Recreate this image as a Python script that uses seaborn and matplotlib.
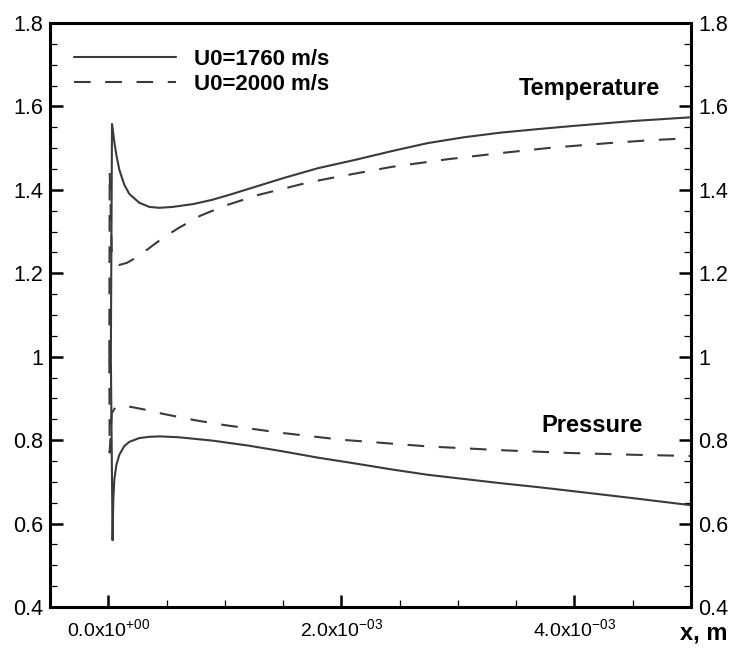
"""Temperature and pressure profiles behind the shock for two inflow speeds."""

import matplotlib
matplotlib.use("Agg")
import matplotlib.pyplot as plt
import matplotlib.ticker as mticker
import pandas as pd
import seaborn as sns

# U0 = 1760 m/s (solid)
X_T_1760 = [2.2e-5, 3.2e-5, 3.9e-5, 5.2e-5, 6.9e-5, 9.5e-5, 1.38e-4, 1.81e-4, 2.67e-4, 3.53e-4,
            4.4e-4, 5.5e-4, 7.3e-4, 8.9e-4, 1.05e-3, 1.2e-3, 1.5e-3, 1.8e-3, 2.12e-3, 2.45e-3,
            2.74e-3, 3.05e-3, 3.36e-3, 3.7e-3, 3.98e-3, 4.5e-3, 5.0e-3]
T_1760 = [1.0, 1.558, 1.544, 1.515, 1.484, 1.448, 1.412, 1.39, 1.369, 1.359,
          1.357, 1.359, 1.366, 1.376, 1.389, 1.402, 1.428, 1.452, 1.472, 1.494,
          1.512, 1.526, 1.537, 1.546, 1.553, 1.565, 1.574]
X_P_1760 = [2.2e-5, 3.7e-5, 4.3e-5, 5.2e-5, 6.9e-5, 9.5e-5, 1.38e-4, 1.81e-4, 2.67e-4, 3.53e-4,
            4.4e-4, 6.0e-4, 8.9e-4, 1.2e-3, 1.5e-3, 1.8e-3, 2.12e-3, 2.45e-3, 2.74e-3,
            3.05e-3, 3.36e-3, 3.7e-3, 3.98e-3, 4.5e-3, 5.0e-3]
P_1760 = [1.0, 0.56, 0.657, 0.705, 0.74, 0.765, 0.786, 0.796, 0.805, 0.808,
          0.809, 0.807, 0.799, 0.787, 0.773, 0.758, 0.744, 0.729, 0.717,
          0.707, 0.697, 0.687, 0.678, 0.661, 0.644]

# U0 = 2000 m/s (dashed)
X_T_2000 = [0.9e-5, 1.2e-5, 3.0e-5, 5.0e-5, 9.5e-5, 1.6e-4, 2.4e-4, 3.4e-4, 4.6e-4, 6.0e-4,
            7.9e-4, 1.0e-3, 1.29e-3, 1.72e-3, 2.0e-3, 2.43e-3, 2.9e-3, 3.36e-3, 3.8e-3,
            4.29e-3, 4.65e-3, 5.0e-3]
T_2000 = [1.0, 1.445, 1.25, 1.233, 1.22, 1.225, 1.238, 1.258, 1.283, 1.308,
          1.338, 1.362, 1.388, 1.418, 1.433, 1.455, 1.473, 1.488, 1.501,
          1.512, 1.519, 1.524]
X_P_2000 = [0.9e-5, 1.2e-5, 3.0e-5, 6.0e-5, 1.5e-4, 3.0e-4, 4.7e-4, 7.6e-4, 1.0e-3, 1.5e-3,
            2.0e-3, 2.74e-3, 3.36e-3, 3.98e-3, 4.5e-3, 5.0e-3]
P_2000 = [1.0, 0.77, 0.865, 0.878, 0.882, 0.874, 0.863, 0.847, 0.836, 0.817,
          0.801, 0.785, 0.776, 0.769, 0.765, 0.762]

X_TICKS = [0.0, 2.0e-3, 4.0e-3]
X_TICK_LABELS = ["0.0x10$^{+00}$", "2.0x10$^{-03}$", "4.0x10$^{-03}$"]
Y_TICKS = [0.4, 0.6, 0.8, 1.0, 1.2, 1.4, 1.6, 1.8]

LINE_COLOR = "#3a3a3a"


def main():
    sns.set_style("white")
    plt.rcParams["font.family"] = ["Liberation Sans", "DejaVu Sans"]
    plt.rcParams["mathtext.fontset"] = "custom"
    plt.rcParams["mathtext.rm"] = "Liberation Sans"
    plt.rcParams["mathtext.default"] = "regular"
    plt.rcParams["text.color"] = "black"

    fig = plt.figure(figsize=(7.36, 6.62), dpi=100)
    ax = fig.add_axes([50 / 736, 1 - 607 / 662, (691 - 50) / 736, (607 - 23) / 662])

    series = [
        (X_T_1760, T_1760, "-", "U0=1760 m/s"),
        (X_T_2000, T_2000, "--", "U0=2000 m/s"),
        (X_P_1760, P_1760, "-", None),
        (X_P_2000, P_2000, "--", None),
    ]
    handles = []
    for xs, ys, ls, label in series:
        df = pd.DataFrame({"x": xs, "y": ys})
        sns.lineplot(data=df, x="x", y="y", sort=False, estimator=None, ax=ax,
                     color=LINE_COLOR, linewidth=1.5)
        line = ax.lines[-1]
        if ls == "--":
            line.set_dashes((8, 7))
        if label:
            line.set_label(label)
            handles.append(line)

    ax.set_xlim(-0.0005, 0.005)
    ax.set_ylim(0.4, 1.8)
    ax.set_xticks(X_TICKS)
    ax.set_xticklabels(X_TICK_LABELS)
    ax.xaxis.set_minor_locator(mticker.MultipleLocator(0.0005))
    ax.set_yticks(Y_TICKS)
    ax.yaxis.set_major_formatter(mticker.FuncFormatter(lambda v, _: f"{v:g}"))
    ax.yaxis.set_minor_locator(mticker.MultipleLocator(0.05))
    ax.set_xlabel("")
    ax.set_ylabel("")

    for side in ["left", "right", "top", "bottom"]:
        ax.spines[side].set_visible(True)
        ax.spines[side].set_color("black")
        ax.spines[side].set_linewidth(2.2)
    ax.tick_params(which="both", direction="in", bottom=True, left=True, right=True,
                   top=False, labelright=True, colors="black")
    ax.tick_params(which="major", length=9, width=1.8)
    ax.tick_params(which="minor", length=5, width=0.9)
    ax.tick_params(axis="x", which="major", pad=8, labelsize=14)
    ax.tick_params(axis="y", which="major", pad=5, labelsize=15.5)

    ax.legend(handles=handles, loc="upper left", bbox_to_anchor=(0.017, 0.978), frameon=False,
              prop={"weight": "bold", "size": 16}, handlelength=4.6, handletextpad=0.8,
              labelspacing=0.18, borderaxespad=0.2)

    ax.text(0.952, 1.642, "Temperature", ha="right", va="center", fontsize=17,
            fontweight="bold", transform=ax.get_yaxis_transform())
    ax.text(0.925, 0.836, "Pressure", ha="right", va="center", fontsize=17,
            fontweight="bold", transform=ax.get_yaxis_transform())
    fig.text(728 / 736, 1 - 633 / 662, "x, m", ha="right", va="center", fontsize=17,
             fontweight="bold")

    fig.savefig("out.png", dpi=100)
    plt.close(fig)


if __name__ == "__main__":
    main()
